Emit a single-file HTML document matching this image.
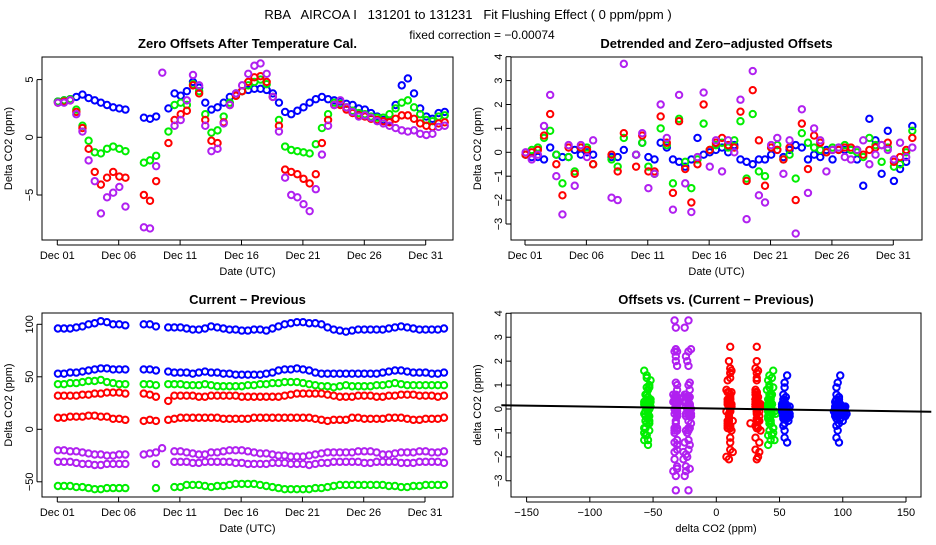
<!DOCTYPE html>
<html><head><meta charset="utf-8"><style>
body{margin:0;background:#fff;width:936px;height:540px;overflow:hidden}
svg{font-family:"Liberation Sans",sans-serif}
</style></head><body>
<svg id="chart" width="936" height="540" viewBox="0 0 936 540">
<text x="468" y="19" font-size="13" text-anchor="middle" xml:space="preserve">RBA   AIRCOA I   131201 to 131231   Fit Flushing Effect ( 0 ppm/ppm )</text>
<text x="482" y="39" font-size="12" text-anchor="middle">fixed correction = −0.00074</text>
</svg>
<script>
const days=["Dec 01","Dec 06","Dec 11","Dec 16","Dec 21","Dec 26","Dec 31"];
const dayTicks=[0,5,10,15,20,25,30];
const n=null;
// Panel 1: zero offsets after temperature cal., sampled every 0.5 day from Dec 01
const p1Blue=[3.1,3.2,3.3,3.5,3.7,3.4,3.2,3.0,2.8,2.6,2.5,2.4,n,n,1.7,1.6,1.8,n,2.5,3.8,3.6,4.0,4.8,4.3,3.0,2.4,2.6,3.0,3.5,3.8,4.0,4.1,4.2,4.2,4.1,3.8,3.0,2.2,2.0,2.3,2.6,3.0,3.3,3.5,3.3,3.2,3.1,2.9,2.8,2.5,2.4,2.1,1.8,1.5,1.4,2.8,4.5,5.1,3.8,2.5,1.8,1.6,2.1,2.2];
const p1Green=[3.1,3.2,3.3,2.4,1.0,-0.3,-1.3,-1.4,-1.0,-0.8,-1.0,-1.2,n,n,-2.2,-2.0,-1.6,n,0.5,2.8,3.0,2.8,4.6,4.0,2.0,0.4,0.6,1.8,3.0,3.6,4.0,4.5,4.8,5.0,4.6,3.5,1.5,-0.8,-1.1,-1.2,-1.3,-1.4,-0.6,0.8,2.0,3.0,2.9,2.6,2.3,2.1,2.0,1.8,1.7,1.7,2.0,2.5,3.0,3.2,2.6,2.0,1.5,1.4,1.8,1.9];
const p1Red=[3.0,3.1,3.2,2.2,0.8,-1.0,-3.0,-4.1,-3.5,-3.0,-3.4,-3.5,n,n,-5.0,-5.5,-3.8,n,-0.5,1.5,2.0,2.3,4.5,3.8,1.5,-0.3,-0.5,1.3,2.8,3.6,4.0,4.8,5.2,5.3,4.8,3.5,1.0,-2.8,-3.0,-3.2,-3.6,-4.0,-3.2,-0.5,1.5,2.8,2.8,2.4,2.1,1.9,1.8,1.6,1.5,1.4,1.3,1.6,1.9,1.9,1.6,1.2,1.0,0.9,1.2,1.3];
const p1Purple=[3.0,3.0,3.2,2.0,0.5,-2.0,-3.8,-6.6,-5.2,-4.8,-4.3,-6.0,n,n,-7.8,-7.9,-2.5,5.6,n,1.0,1.5,3.2,5.4,4.5,1.0,-1.2,-1.0,1.2,2.8,3.8,4.5,5.5,6.2,6.4,5.5,3.5,0.5,-3.5,-5.0,-5.2,-5.8,-6.4,-4.5,-1.5,1.0,2.8,3.2,2.6,2.2,1.8,1.9,1.7,1.4,1.2,1.0,0.8,0.6,0.5,0.6,0.3,0.2,0.3,0.9,1.0];
// Panel 2: detrended offsets
const p2Blue=[-0.1,-0.2,-0.2,-0.3,0.2,-0.1,-0.2,-0.2,0.1,-0.1,0,-0.1,n,n,-0.2,-0.2,0.1,n,-0.1,0.4,-0.2,-0.3,0.4,0.2,-0.3,-0.4,-0.6,-0.3,0.6,-0.1,0,0.1,0.2,0,0.3,-0.3,-0.4,-0.5,-0.3,-0.3,-0.1,0.1,-0.2,0.1,0.3,0.2,-0.3,-0.1,-0.2,0.1,-0.3,0.1,0.1,0.1,-0.3,-1.4,1.4,0.5,-0.9,0.9,-1.2,-0.7,-0.4,1.1];
const p2Green=[-0.1,0.1,0.2,0.6,0.9,-0.1,-1.3,-0.2,-0.8,0.2,0.2,-0.5,n,n,-0.3,-0.6,0.6,n,-0.1,0.4,-0.6,-0.9,1.0,0.3,-1.3,1.4,-0.4,-1.5,-0.3,1.2,0.1,0.3,0.4,0.2,0.5,1.3,-1.1,1.6,-0.8,-1.0,0.2,0.3,-0.3,-0.1,-1.1,0.8,0.4,0.2,0.1,0,0.2,0.2,0.3,0.1,0,-0.2,0.6,0.3,-0.4,0.2,-0.6,-0.5,0,0.9];
const p2Red=[-0.1,0,0.1,0.7,1.6,-0.5,-1.8,0.2,-0.9,0.2,0.1,-0.5,n,n,-0.1,-0.8,0.8,n,-0.6,0.7,-0.8,-0.8,1.5,0.4,-1.7,1.3,-0.7,-2.1,-0.5,2.0,0.1,0.4,0.6,0.3,0.2,1.7,-1.2,2.6,0.5,-1.4,0.2,0.1,-0.3,0.2,-2.0,1.2,-0.7,0.7,0.4,0,0.1,0.1,0.2,0.2,0.1,-0.1,0.1,0.2,0.3,0.4,-0.4,-0.2,0.1,0.6];
const p2Purple=[0,-0.3,-0.1,1.1,2.4,-1.0,-2.6,0.3,-1.4,0.3,-0.2,0.5,n,n,-1.9,-2.0,3.7,n,-0.1,0.8,-1.5,-0.9,2.0,0.6,-2.4,2.4,-1.3,-2.5,-0.2,2.5,-0.6,0.5,-0.8,0.5,0,2.2,-2.8,3.4,-1.8,-2.1,0.3,0.6,-0.9,0.5,-3.4,1.8,-1.7,1.0,0.5,-0.8,0.1,0.2,-0.2,-0.3,0.1,0.5,-0.5,-0.1,0.3,0.1,-0.3,0.4,-0.2,0.2];
// Panel 3: current - previous, two bands per colour
const p3BlueHi=[96,96,96,97,98,100,101,103,102,100,100,99,n,n,100,100,98,n,97,97,97,96,95,95,96,98,97,96,95,95,94,94,95,95,94,96,98,100,101,102,102,101,101,100,97,95,94,93,94,95,95,95,95,95,96,97,98,97,96,95,95,95,95,96];
const p3BlueLo=[53,53,54,54,55,56,57,58,58,57,57,57,n,n,57,57,56,n,55,54,54,54,53,54,55,54,54,53,53,52,52,52,52,52,53,54,56,57,57,58,57,56,54,53,53,53,53,53,53,53,53,53,53,54,55,56,56,55,54,54,54,53,53,54];
const p3GreenHi=[43,43,44,44,45,46,46,47,45,44,43,43,n,n,43,43,42,n,43,43,43,42,42,42,43,42,41,41,41,41,41,42,42,43,43,44,44,45,45,45,44,43,42,41,41,40,41,42,41,41,41,41,42,42,43,44,43,42,42,42,42,42,42,42];
const p3GreenLo=[-54,-54,-54,-55,-55,-56,-57,-57,-56,-56,-56,-56,n,n,n,n,-56,n,n,-55,-55,-53,-53,-53,-54,-55,-54,-54,-53,-52,-52,-52,-52,-53,-54,-55,-56,-57,-57,-57,-57,-57,-56,-56,-55,-54,-53,-53,-53,-53,-53,-53,-53,-53,-54,-54,-55,-55,-54,-54,-53,-53,-53,-53];
const p3RedHi=[32,32,32,32,33,33,34,34,35,35,35,34,n,n,34,33,31,n,27,32,32,32,32,31,31,32,32,32,32,32,31,31,31,31,31,31,31,32,33,34,34,34,34,34,33,32,31,31,31,32,32,32,31,31,32,32,33,33,33,32,32,32,31,32];
const p3RedLo=[11,11,12,12,12,13,13,12,12,10,10,9,n,n,8,9,8,n,9,10,11,11,11,11,11,11,11,10,10,10,10,10,11,11,11,11,11,11,11,11,11,11,10,9,8,9,9,9,11,11,10,10,10,10,11,11,11,10,9,9,10,10,10,11];
const p3PurpleHi=[-20,-20,-21,-21,-22,-23,-24,-24,-25,-25,-24,-24,n,n,-24,-23,-22,-18,n,-21,-21,-22,-23,-24,-24,-22,-22,-21,-20,-20,-20,-21,-22,-23,-23,-24,-25,-25,-26,-26,-26,-25,-24,-23,-22,-22,-22,-22,-22,-21,-21,-21,-22,-24,-24,-23,-22,-22,-22,-21,-21,-22,-22,-21];
const p3PurpleLo=[-31,-31,-31,-32,-33,-33,-34,-34,-33,-33,-33,-33,n,n,n,n,-33,n,n,-31,-31,-31,-32,-32,-31,-31,-31,-31,-31,-32,-32,-33,-33,-33,-33,-32,-32,-32,-33,-33,-33,-34,-33,-32,-32,-31,-31,-31,-31,-31,-32,-32,-31,-31,-31,-31,-32,-32,-32,-31,-31,-31,-31,-32];
const fitIntercept=0.02, fitSlope=-0.0008;
const yt1=[-5,0,5], yt2=[-3,-2,-1,0,1,2,3,4], yt3=[-50,0,50,100], xt4=[-150,-100,-50,0,50,100,150];
const C={blue:"#0000ff",green:"#00ee00",red:"#ff0000",purple:"#b020f0"};

const svg=document.getElementById('chart');
const NS="http://www.w3.org/2000/svg";
function mk(tag,at,parent){const e=document.createElementNS(NS,tag);for(const k in at)e.setAttribute(k,at[k]);(parent||svg).appendChild(e);return e;}
function lin(d0,d1,r0,r1){return v=>r0+(v-d0)*(r1-r0)/(d1-d0);}

function panel(name,box,title,xlab,ylab,xs,ys,xticks,xlabels,yticks){
  const g=mk('g',{});
  
  
  const r=mk('rect',{x:box[0],y:box[1],width:box[2]-box[0],height:box[3]-box[1],fill:'none',stroke:'#000','stroke-width':1},g);
  
  
  const t=mk('text',{x:(box[0]+box[2])/2,y:box[1]-9,'font-size':13,'font-weight':'bold','text-anchor':'middle'},g);
  t.textContent=title;
  
  
  const xl=mk('text',{x:(box[0]+box[2])/2,y:box[3]+35,'font-size':11,'text-anchor':'middle'},g);
  xl.textContent=xlab;
  
  
  const cy=(box[1]+box[3])/2;
  const yl=mk('text',{x:box[0]-30,y:cy,'font-size':11,'text-anchor':'middle',transform:`rotate(-90 ${box[0]-30} ${cy})`},g);
  yl.textContent=ylab;
  
  
  xticks.forEach((v,i)=>{const X=xs(v);
    mk('line',{x1:X,x2:X,y1:box[3],y2:box[3]+5,stroke:'#000'},g);
    const tl=mk('text',{x:X,y:box[3]+19,'font-size':11,'text-anchor':'middle'},g);
    tl.textContent=xlabels[i];
    
    });
  mk('line',{x1:xs(xticks[0]),x2:xs(xticks[xticks.length-1]),y1:box[3]+5,y2:box[3]+5,stroke:'#000'},g);
  yticks.forEach(v=>{const Y=ys(v);
    mk('line',{x1:box[0]-5,x2:box[0],y1:Y,y2:Y,stroke:'#000'},g);
    const tl=mk('text',{x:box[0]-9,y:Y,'font-size':11,'text-anchor':'middle',transform:`rotate(-90 ${box[0]-9} ${Y})`},g);
    tl.textContent=String(v).replace('-','−');
    
    });
  mk('line',{x1:box[0]-5,x2:box[0]-5,y1:ys(yticks[0]),y2:ys(yticks[yticks.length-1]),stroke:'#000'},g);
  return g;
}
function pts(g,xsArr,ysArr,xs,ys,color,name){
  const s=mk('g',{fill:'none',stroke:color,'stroke-width':2},g);
  
  
  for(let i=0;i<ysArr.length;i++){const xv=xsArr[i],yv=ysArr[i];
    if(xv==null||yv==null||xv===undefined||yv===undefined)continue;
    const c=mk('circle',{cx:xs(xv),cy:ys(yv),r:3.2},s);
    
    }
}
const tArr=p1Blue.map((_,i)=>i*0.5+0.05);

// Panel 1
{const b=[42,57,453,240];const xs=lin(0,30,57.3,425.7),ys=lin(0,5,137.3,79.6);
 const g=panel('zero-offsets-panel',b,'Zero Offsets After Temperature Cal.','Date (UTC)','Delta CO2 (ppm)',xs,ys,dayTicks,days,yt1);
 pts(g,tArr,p1Blue,xs,ys,C.blue,'series-blue');pts(g,tArr,p1Green,xs,ys,C.green,'series-green');
 pts(g,tArr,p1Red,xs,ys,C.red,'series-red');pts(g,tArr,p1Purple,xs,ys,C.purple,'series-purple');}
// Panel 2
{const b=[511,57,922,240];const xs=lin(0,30,525,893.3),ys=lin(0,4,152.3,56.7);
 const g=panel('detrended-offsets-panel',b,'Detrended and Zero−adjusted Offsets','Date (UTC)','Delta CO2 (ppm)',xs,ys,dayTicks,days,yt2);
 pts(g,tArr,p2Blue,xs,ys,C.blue,'series-blue');pts(g,tArr,p2Green,xs,ys,C.green,'series-green');
 pts(g,tArr,p2Red,xs,ys,C.red,'series-red');pts(g,tArr,p2Purple,xs,ys,C.purple,'series-purple');}
// Panel 3
{const b=[42,313,453,497];const xs=lin(0,30,57.3,425),ys=lin(0,100,429.3,324.3);
 const g=panel('current-minus-previous-panel',b,'Current − Previous','Date (UTC)','Delta CO2 (ppm)',xs,ys,dayTicks,days,yt3);
 pts(g,tArr,p3BlueHi,xs,ys,C.blue,'series-blue-high');pts(g,tArr,p3BlueLo,xs,ys,C.blue,'series-blue-low');
 pts(g,tArr,p3GreenHi,xs,ys,C.green,'series-green-high');pts(g,tArr,p3GreenLo,xs,ys,C.green,'series-green-low');
 pts(g,tArr,p3RedHi,xs,ys,C.red,'series-red-high');pts(g,tArr,p3RedLo,xs,ys,C.red,'series-red-low');
 pts(g,tArr,p3PurpleHi,xs,ys,C.purple,'series-purple-high');pts(g,tArr,p3PurpleLo,xs,ys,C.purple,'series-purple-low');}
// Panel 4
{const b=[511,313,921,497];const xs=lin(0,150,716.3,906),ys=lin(0,4,409,313.3);
 const g=panel('offsets-vs-diff-panel',b,'Offsets vs. (Current − Previous)','delta CO2 (ppm)','delta CO2 (ppm)',xs,ys,xt4,xt4.map(v=>String(v).replace('-','−')),yt2);
 pts(g,p3GreenLo,p2Green,xs,ys,C.green,'scatter-green-low');
 pts(g,p3PurpleLo,p2Purple,xs,ys,C.purple,'scatter-purple-low');pts(g,p3PurpleHi,p2Purple,xs,ys,C.purple,'scatter-purple-high');
 pts(g,p3RedLo,p2Red,xs,ys,C.red,'scatter-red-low');pts(g,p3RedHi,p2Red,xs,ys,C.red,'scatter-red-high');
 pts(g,p3GreenHi,p2Green,xs,ys,C.green,'scatter-green-high');
 pts(g,p3BlueLo,p2Blue,xs,ys,C.blue,'scatter-blue-low');pts(g,p3BlueHi,p2Blue,xs,ys,C.blue,'scatter-blue-high');
 const x0=-170,x1=170;
 const fl=mk('line',{x1:xs(x0),y1:ys(fitIntercept+fitSlope*x0),x2:xs(x1),y2:ys(fitIntercept+fitSlope*x1),stroke:'#000','stroke-width':2},g);
 
 }
</script>
</body></html>
